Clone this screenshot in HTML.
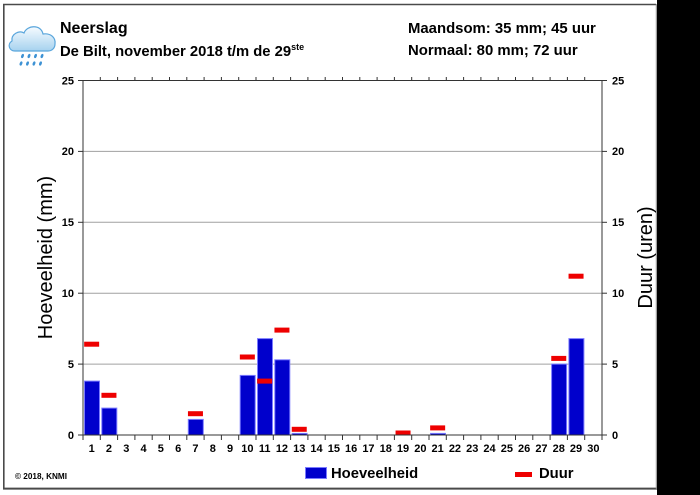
<!DOCTYPE html>
<html><head><meta charset="utf-8"><style>
html,body{margin:0;padding:0;background:#fff;}
body{width:700px;height:495px;overflow:hidden;position:relative;}
svg{position:absolute;left:0;top:0;}
text{font-family:"Liberation Sans",Arial,sans-serif;fill:#000;}
.b{font-weight:bold;}
</style></head><body>
<svg width="700" height="495" viewBox="0 0 700 495" xmlns="http://www.w3.org/2000/svg">
<defs>
<linearGradient id="cg" x1="0" y1="0" x2="0" y2="1">
<stop offset="0" stop-color="#f6fbff"/><stop offset="1" stop-color="#a6d2ef"/>
</linearGradient>
</defs>
<rect x="657" y="0" width="43" height="495" fill="#000"/>
<!-- frame -->
<line x1="3.8" y1="4" x2="3.8" y2="489" stroke="#4a4a4a" stroke-width="1.6"/>
<line x1="3" y1="4.5" x2="656" y2="4.5" stroke="#4a4a4a" stroke-width="1.4"/>
<line x1="3" y1="488.6" x2="657" y2="488.6" stroke="#4a4a4a" stroke-width="2"/>
<line x1="656.3" y1="4" x2="656.3" y2="489" stroke="#888" stroke-width="1"/>

<!-- cloud icon -->
<path d="M15,51 C9,51 7,44 12,41 C11,34 19,30 24,33 C27,25 41,24 43,34 C50,33 56,37 55,44 C55,48 52,51 48,51 Z" fill="url(#cg)" stroke="#5aa6dc" stroke-width="1.2"/>
<g fill="#3d92d4">
<ellipse cx="22.5" cy="56" rx="1.3" ry="2.2" transform="rotate(20 22.5 56)"/>
<ellipse cx="29" cy="56" rx="1.3" ry="2.2" transform="rotate(20 29 56)"/>
<ellipse cx="35.5" cy="56" rx="1.3" ry="2.2" transform="rotate(20 35.5 56)"/>
<ellipse cx="42" cy="56" rx="1.3" ry="2.2" transform="rotate(20 42 56)"/>
<ellipse cx="21" cy="63.5" rx="1.3" ry="2.2" transform="rotate(20 21 63.5)"/>
<ellipse cx="27.5" cy="63.5" rx="1.3" ry="2.2" transform="rotate(20 27.5 63.5)"/>
<ellipse cx="34" cy="63.5" rx="1.3" ry="2.2" transform="rotate(20 34 63.5)"/>
<ellipse cx="40.5" cy="63.5" rx="1.3" ry="2.2" transform="rotate(20 40.5 63.5)"/>
</g>

<!-- titles -->
<text x="60" y="33" class="b" font-size="16">Neerslag</text>
<text x="60" y="56" class="b" font-size="14.8">De Bilt, november 2018 t/m de 29<tspan font-size="9" dy="-6">ste</tspan></text>
<text x="408" y="33" class="b" font-size="14.9">Maandsom: 35 mm; 45 uur</text>
<text x="408" y="55" class="b" font-size="14.9">Normaal: 80 mm; 72 uur</text>

<!-- gridlines -->
<g stroke="#a0a0a0" stroke-width="1">
<line x1="83" y1="364.1" x2="602" y2="364.1"/>
<line x1="83" y1="293.2" x2="602" y2="293.2"/>
<line x1="83" y1="222.3" x2="602" y2="222.3"/>
<line x1="83" y1="151.4" x2="602" y2="151.4"/>
</g>

<!-- bars -->
<g fill="#0000cc" stroke="#7b7bff" stroke-width="1">
<rect x="84.5" y="381.1" width="15" height="53.9"/>
<rect x="101.8" y="408.1" width="15" height="26.9"/>
<rect x="188.3" y="419.4" width="15" height="15.6"/>
<rect x="240.2" y="375.4" width="15" height="59.6"/>
<rect x="257.5" y="338.6" width="15" height="96.4"/>
<rect x="274.8" y="359.8" width="15" height="75.2"/>
<rect x="292.1" y="433.4" width="15" height="1.6"/>
<rect x="430.5" y="433.4" width="15" height="1.6"/>
<rect x="551.6" y="364.1" width="15" height="70.9"/>
<rect x="568.9" y="338.6" width="15" height="96.4"/>
</g>

<!-- duur -->
<g fill="#ee0000">
<rect x="84.15" y="341.7" width="15" height="5"/>
<rect x="101.45" y="392.8" width="15" height="5"/>
<rect x="187.95" y="411.2" width="15" height="5"/>
<rect x="239.85" y="354.5" width="15" height="5"/>
<rect x="257.15" y="378.6" width="15" height="5"/>
<rect x="274.45" y="327.6" width="15" height="5"/>
<rect x="291.75" y="426.8" width="15" height="5"/>
<rect x="395.55" y="430.5" width="15" height="4.5"/>
<rect x="430.15" y="425.4" width="15" height="5"/>
<rect x="551.25" y="355.9" width="15" height="5"/>
<rect x="568.55" y="273.7" width="15" height="5"/>
</g>

<!-- axes -->
<g stroke="#333" stroke-width="1" fill="none">
<line x1="83" y1="80.5" x2="602" y2="80.5"/>
<line x1="83" y1="435" x2="602" y2="435"/>
<line x1="83" y1="80.5" x2="83" y2="440"/>
<line x1="602" y1="80.5" x2="602" y2="440"/>
<!-- left ticks -->
<line x1="78" y1="435" x2="83" y2="435"/>
<line x1="78" y1="364.1" x2="83" y2="364.1"/>
<line x1="78" y1="293.2" x2="83" y2="293.2"/>
<line x1="78" y1="222.3" x2="83" y2="222.3"/>
<line x1="78" y1="151.4" x2="83" y2="151.4"/>
<line x1="78" y1="80.5" x2="83" y2="80.5"/>
<!-- right ticks -->
<line x1="602" y1="435" x2="607" y2="435"/>
<line x1="602" y1="364.1" x2="607" y2="364.1"/>
<line x1="602" y1="293.2" x2="607" y2="293.2"/>
<line x1="602" y1="222.3" x2="607" y2="222.3"/>
<line x1="602" y1="151.4" x2="607" y2="151.4"/>
<line x1="602" y1="80.5" x2="607" y2="80.5"/>
</g>
<!-- x ticks top (up) and bottom (down) -->
<g stroke="#333" stroke-width="1">
<path d="M100.3,77V80.5M117.6,77V80.5M134.9,77V80.5M152.2,77V80.5M169.5,77V80.5M186.8,77V80.5M204.1,77V80.5M221.4,77V80.5M238.7,77V80.5M256,77V80.5M273.3,77V80.5M290.6,77V80.5M307.9,77V80.5M325.2,77V80.5M342.5,77V80.5M359.8,77V80.5M377.1,77V80.5M394.4,77V80.5M411.7,77V80.5M429,77V80.5M446.3,77V80.5M463.6,77V80.5M480.9,77V80.5M498.2,77V80.5M515.5,77V80.5M532.8,77V80.5M550.1,77V80.5M567.4,77V80.5M584.7,77V80.5"/>
<path d="M100.3,435V440M117.6,435V440M134.9,435V440M152.2,435V440M169.5,435V440M186.8,435V440M204.1,435V440M221.4,435V440M238.7,435V440M256,435V440M273.3,435V440M290.6,435V440M307.9,435V440M325.2,435V440M342.5,435V440M359.8,435V440M377.1,435V440M394.4,435V440M411.7,435V440M429,435V440M446.3,435V440M463.6,435V440M480.9,435V440M498.2,435V440M515.5,435V440M532.8,435V440M550.1,435V440M567.4,435V440M584.7,435V440"/>
</g>

<!-- y labels -->
<g class="b" font-size="11" text-anchor="end">
<text x="74" y="439">0</text>
<text x="74" y="368">5</text>
<text x="74" y="297">10</text>
<text x="74" y="226">15</text>
<text x="74" y="155">20</text>
<text x="74" y="84.5">25</text>
</g>
<g class="b" font-size="11">
<text x="612" y="439">0</text>
<text x="612" y="368">5</text>
<text x="612" y="297">10</text>
<text x="612" y="226">15</text>
<text x="612" y="155">20</text>
<text x="612" y="84.5">25</text>
</g>

<!-- x labels -->
<g class="b" font-size="11" text-anchor="middle">
<text x="91.65" y="452">1</text><text x="108.95" y="452">2</text><text x="126.25" y="452">3</text><text x="143.55" y="452">4</text><text x="160.85" y="452">5</text><text x="178.15" y="452">6</text><text x="195.45" y="452">7</text><text x="212.75" y="452">8</text><text x="230.05" y="452">9</text><text x="247.35" y="452">10</text><text x="264.65" y="452">11</text><text x="281.95" y="452">12</text><text x="299.25" y="452">13</text><text x="316.55" y="452">14</text><text x="333.85" y="452">15</text><text x="351.15" y="452">16</text><text x="368.45" y="452">17</text><text x="385.75" y="452">18</text><text x="403.05" y="452">19</text><text x="420.35" y="452">20</text><text x="437.65" y="452">21</text><text x="454.95" y="452">22</text><text x="472.25" y="452">23</text><text x="489.55" y="452">24</text><text x="506.85" y="452">25</text><text x="524.15" y="452">26</text><text x="541.45" y="452">27</text><text x="558.75" y="452">28</text><text x="576.05" y="452">29</text><text x="593.35" y="452">30</text>
</g>

<!-- axis titles -->
<text transform="translate(52,257.5) rotate(-90)" font-size="20" text-anchor="middle">Hoeveelheid (mm)</text>
<text transform="translate(652,257.5) rotate(-90)" font-size="20" text-anchor="middle">Duur (uren)</text>

<!-- legend -->
<rect x="305.5" y="467.5" width="21" height="11" fill="#0000cc" stroke="#7b7bff" stroke-width="1"/>
<text x="331" y="478" class="b" font-size="14.8">Hoeveelheid</text>
<rect x="515" y="472" width="17" height="5" fill="#ee0000"/>
<text x="539" y="478" class="b" font-size="14.8">Duur</text>

<text x="15" y="479" class="b" font-size="8.2">© 2018, KNMI</text>
</svg>
</body></html>
